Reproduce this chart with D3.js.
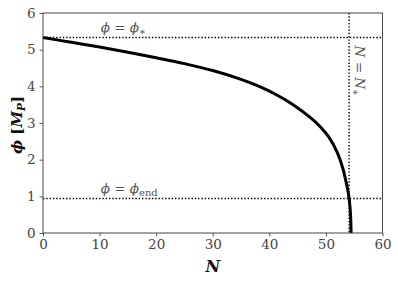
<!DOCTYPE html>
<html>
<head>
<meta charset="utf-8">
<script src="https://cdn.jsdelivr.net/npm/d3@7"></script>
<style>
  body { margin: 0; background: #fff; }
  svg text { font-family: "DejaVu Serif", serif; }
</style>
</head>
<body>
<div id="chart"></div>
<script>
// e-folds N and field value phi (in M_P)
const nValues   = [0, 5, 10, 15, 20, 25, 30, 35, 38, 41, 44, 47, 49, 50.5, 52, 53, 53.8, 54.0, 54.2, 54.35, 54.45];
const phiValues = [5.33, 5.2, 5.07, 4.93, 4.78, 4.62, 4.43, 4.19, 4.01, 3.79, 3.52, 3.18, 2.9, 2.62, 2.2, 1.76, 1.22, 1.05, 0.8, 0.5, 0];
const phiStar = 5.33;
const phiEnd = 0.94;
const nStar = 54.1;
const xTicks = [0, 10, 20, 30, 40, 50, 60];
const yTicks = [0, 1, 2, 3, 4, 5, 6];

const W = 398, H = 282;
const serif = "'DejaVu Serif', serif";
const svg = d3.select('#chart').append('svg')
    .attr('width', W)
    .attr('height', H)
    .attr('font-family', serif);

const margin = {top: 13, right: 15.5, bottom: 49, left: 43};
const width = W - margin.left - margin.right;
const height = H - margin.top - margin.bottom;

const g = svg.append("g").attr("transform", `translate(${margin.left}, ${margin.top})`);

const xScale = d3.scaleLinear().domain([0, 60]).range([0, width]);
const yScale = d3.scaleLinear().domain([0, 6]).range([height, 0]);

const axisColor = "#333";

// axes
const xAxis = g.append("g")
    .attr("transform", `translate(0, ${height})`)
    .call(d3.axisBottom(xScale).tickValues(xTicks).tickFormat(d3.format("d")).tickSize(3.5).tickPadding(3));
const yAxis = g.append("g")
    .call(d3.axisLeft(yScale).tickValues(yTicks).tickFormat(d3.format("d")).tickSize(3.5).tickPadding(4));

[xAxis, yAxis].forEach(a => {
    a.attr("font-family", serif).attr("font-size", 13.5);
    a.select(".domain").remove();
    a.selectAll(".tick line").attr("stroke", axisColor).attr("stroke-width", 0.8);
    a.selectAll(".tick text").attr("fill", "#444").attr("font-weight", 300);
});

// reference lines
const dotted = {stroke: "#000", width: 1.4, dash: "1.4,1.9"};
[phiStar, phiEnd].forEach(v => {
    g.append("line")
        .attr("x1", 0).attr("x2", width)
        .attr("y1", yScale(v)).attr("y2", yScale(v))
        .attr("stroke", dotted.stroke)
        .attr("stroke-width", dotted.width)
        .attr("stroke-dasharray", dotted.dash);
});
g.append("line")
    .attr("x1", xScale(nStar)).attr("x2", xScale(nStar))
    .attr("y1", 0).attr("y2", height)
    .attr("stroke", dotted.stroke)
    .attr("stroke-width", dotted.width)
    .attr("stroke-dasharray", dotted.dash);

// the curve
const pts = nValues.map((n, i) => [n, phiValues[i]]);
g.append("path")
    .datum(pts)
    .attr("fill", "none")
    .attr("stroke", "#000")
    .attr("stroke-width", 3)
    .attr("d", d3.line()
        .x(d => xScale(d[0]))
        .y(d => yScale(d[1]))
        .curve(d3.curveCatmullRom.alpha(0.5)));

// frame
g.append("rect")
    .attr("width", width).attr("height", height)
    .attr("fill", "none")
    .attr("stroke", axisColor)
    .attr("stroke-width", 0.9);

// annotations
const noteColor = "#555";
const t1 = g.append("text")
    .attr("x", xScale(10.2)).attr("y", yScale(phiStar) - 6)
    .attr("fill", noteColor)
    .style("font-size", "13.5px");
t1.append("tspan").attr("font-style", "italic").text("ϕ");
t1.append("tspan").text(" = ");
t1.append("tspan").attr("font-style", "italic").text("ϕ");
t1.append("tspan").attr("dy", 3).style("font-size", "10px").text("∗");

const t2 = g.append("text")
    .attr("x", xScale(10.2)).attr("y", yScale(phiEnd) - 6)
    .attr("fill", noteColor)
    .style("font-size", "13.5px");
t2.append("tspan").attr("font-style", "italic").text("ϕ");
t2.append("tspan").text(" = ");
t2.append("tspan").attr("font-style", "italic").text("ϕ");
t2.append("tspan").attr("dy", 3).style("font-size", "10px").text("end");

const t3 = g.append("text")
    .attr("transform", `translate(${xScale(nStar) + 6}, ${yScale(phiStar) + 8}) rotate(90)`)
    .attr("fill", noteColor)
    .style("font-size", "13.5px");
t3.append("tspan").attr("font-style", "italic").text("N");
t3.append("tspan").text(" = ");
t3.append("tspan").attr("font-style", "italic").text("N");
t3.append("tspan").attr("dy", 3).style("font-size", "10px").text("∗");

// axis labels
svg.append("text")
    .attr("x", margin.left + width / 2)
    .attr("y", H - 10)
    .attr("text-anchor", "middle")
    .attr("font-weight", "bold")
    .attr("font-style", "italic")
    .attr("fill", "#111")
    .style("font-size", "16px")
    .text("N");

const yl = svg.append("text")
    .attr("transform", `translate(22, ${margin.top + height / 2 + 2}) rotate(-90)`)
    .attr("text-anchor", "middle")
    .attr("font-weight", "bold")
    .attr("fill", "#111")
    .style("font-size", "15px");
yl.append("tspan").attr("font-style", "italic").text("ϕ");
yl.append("tspan").text(" [");
yl.append("tspan").attr("font-style", "italic").text("M");
yl.append("tspan").attr("font-style", "italic").attr("dy", 3).style("font-size", "10.5px").text("P");
yl.append("tspan").attr("dy", -3).text("]");
</script>
</body>
</html>
